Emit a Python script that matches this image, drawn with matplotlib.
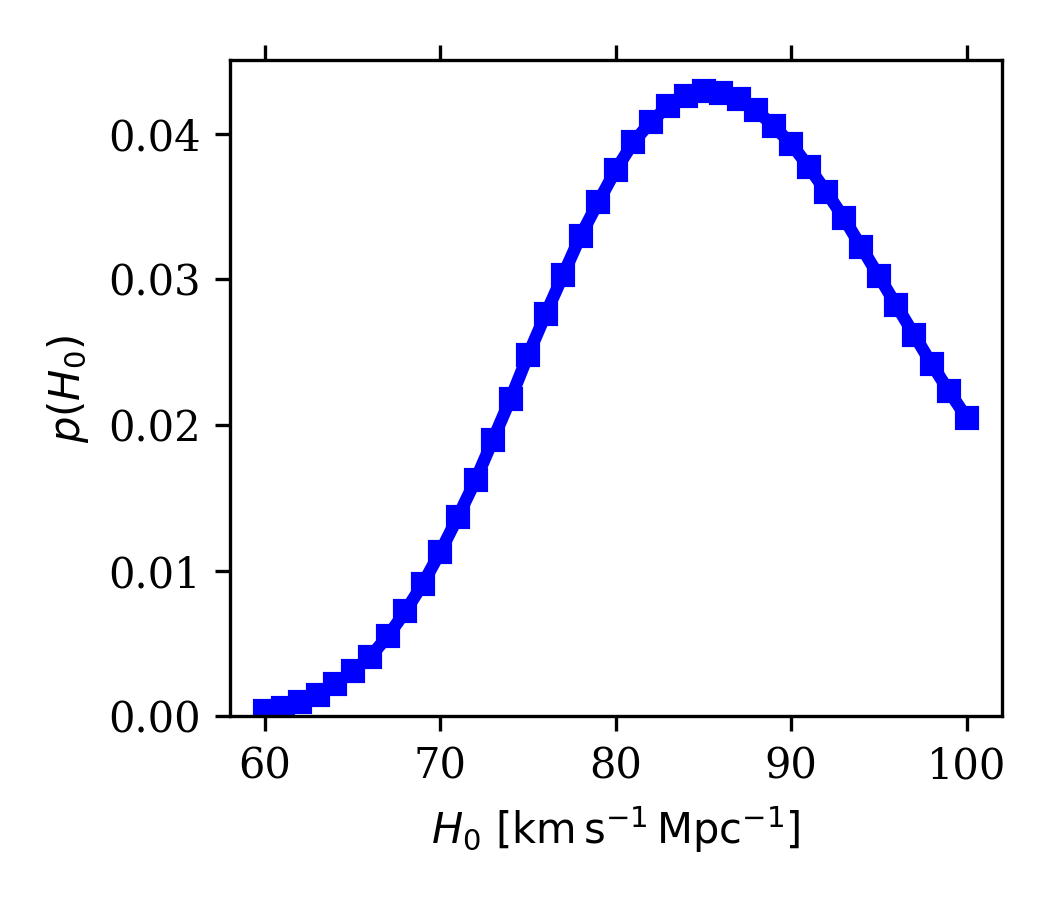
import matplotlib
matplotlib.use('Agg')
import matplotlib.pyplot as plt
import numpy as np

plt.rcParams['font.family'] = 'serif'
plt.rcParams['font.size'] = 10

# posterior on H0
h0 = np.arange(60, 101, 1)
p_h0 = [0.0004, 0.0006, 0.0010, 0.0015, 0.0022, 0.0031, 0.0041, 0.0055,
        0.0072, 0.0091, 0.0113, 0.0137, 0.0162, 0.0190, 0.0218, 0.0248,
        0.0276, 0.0303, 0.0330, 0.0353, 0.0375, 0.0394, 0.0408, 0.0419,
        0.0426, 0.0429, 0.0428, 0.0424, 0.0416, 0.0405, 0.0393, 0.0377,
        0.0360, 0.0342, 0.0322, 0.0302, 0.0282, 0.0262, 0.0242, 0.0223,
        0.0205]

fig, ax = plt.subplots(figsize=(3.5, 3), dpi=300)
fig.subplots_adjust(left=0.219, right=0.954, top=0.933, bottom=0.204)

ax.plot(h0, p_h0, color='blue', marker='s', ms=5, lw=3)
ax.set_ylim(bottom=0)
ax.tick_params(top=True)
ax.set_xticks([60, 70, 80, 90, 100])
ax.set_yticks([0.0, 0.01, 0.02, 0.03, 0.04])

ax.set_xlabel(r'$H_0\ [\mathrm{km\,s^{-1}\,Mpc^{-1}}]$')
ax.set_ylabel(r'$p(H_0)$')

fig.savefig('out.png', dpi=300)
